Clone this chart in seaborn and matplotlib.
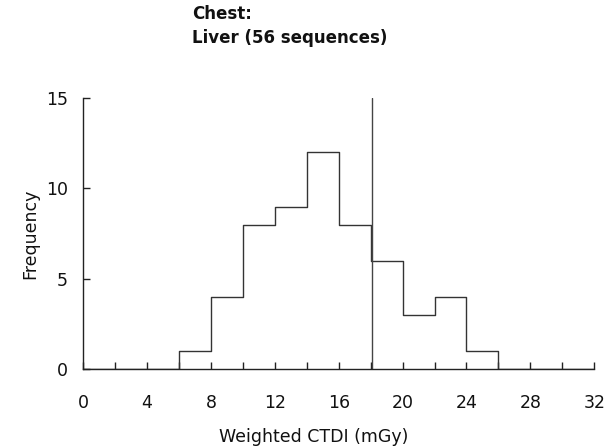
import numpy as np
import pandas as pd
import matplotlib
matplotlib.use("Agg")
import matplotlib.pyplot as plt
from matplotlib.ticker import MultipleLocator
import seaborn as sns

# Histogram of weighted CTDI values, 2 mGy bins
bin_edges = list(range(0, 34, 2))
bin_counts = [0, 0, 0, 1, 4, 8, 9, 12, 8, 6, 3, 4, 1, 0, 0, 0]
reference_level = 18.1
x_ticks = [0, 4, 8, 12, 16, 20, 24, 28, 32]
y_ticks = [0, 5, 10, 15]

centers = [(a + b) / 2 for a, b in zip(bin_edges[:-1], bin_edges[1:])]
df = pd.DataFrame({"ctdi": centers, "count": bin_counts})

sns.set_style("white")
plt.rcParams["font.family"] = ["DejaVu Sans"]

fig = plt.figure(figsize=(6.12, 4.48), dpi=100)
ax = fig.add_axes([0.136, 0.176, 0.835, 0.605])

sns.histplot(data=df, x="ctdi", weights="count", bins=bin_edges,
             element="step", fill=False, color="#333333", linewidth=1.0, ax=ax)

ax.axvline(reference_level, color="#444444", linewidth=1.0)

ax.set_xlim(0, 32)
ax.set_ylim(0, 15)
ax.set_xticks(x_ticks)
ax.xaxis.set_minor_locator(MultipleLocator(2))
ax.set_yticks(y_ticks)

for side in ("top", "right"):
    ax.spines[side].set_visible(False)
for side in ("left", "bottom"):
    ax.spines[side].set_color("#222222")
    ax.spines[side].set_linewidth(1.0)

ax.tick_params(axis="x", which="both", bottom=True, direction="in", length=5,
               width=1, color="#222222", pad=18, labelsize=12.5,
               labelcolor="#111111")
ax.tick_params(axis="y", which="major", left=True, direction="in", length=5,
               width=1, color="#222222", pad=11, labelsize=12.5,
               labelcolor="#111111")
ax.tick_params(axis="y", which="minor", left=False, length=0)

ax.set_xlabel("Weighted CTDI (mGy)", fontsize=12.5, color="#111111",
              va="center")
ax.xaxis.set_label_coords(0.45, -0.25)
ax.set_ylabel("Frequency", fontsize=12.5, color="#111111", labelpad=5)

fig.text(192 / 612, 1 - 26 / 448, "Chest:\nLiver (56 sequences)",
         fontsize=12, fontweight="bold", ha="left", va="center",
         linespacing=1.4, color="#111111")

fig.savefig("out.png", dpi=100)
